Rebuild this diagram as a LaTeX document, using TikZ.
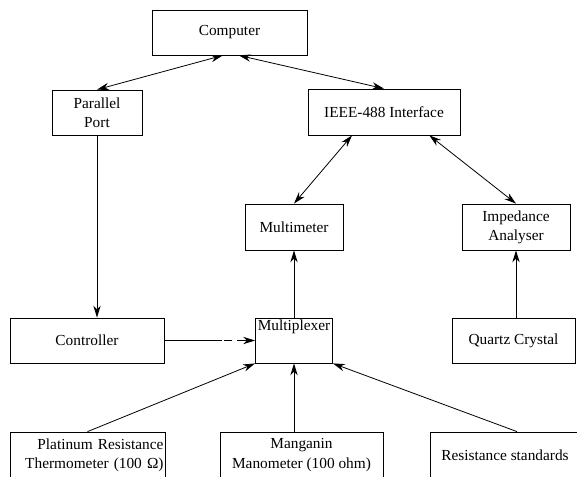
\documentclass[tikz,border=0pt]{standalone}
\usepackage{fontspec}
\setmainfont{Liberation Serif}
\usepackage{tikz}
\usetikzlibrary{arrows.meta}

\tikzset{
	blk/.style 2 args={draw, line width=0.6pt, minimum width=#1*0.75pt, minimum height=#2*0.75pt, inner sep=1pt, align=center, font=\fontsize{11.5}{14.5}\selectfont},
	lnk/.style={line width=0.6pt, -{Stealth[length=9pt,width=5.5pt]}},
	dlnk/.style={line width=0.6pt, {Stealth[length=9pt,width=5.5pt]}-{Stealth[length=9pt,width=5.5pt]}}
}

\begin{document}
\begin{tikzpicture}[x=0.75pt,y=-0.75pt]
	\path[use as bounding box, clip] (0,0) rectangle (577,476);

	\node[blk={155}{45}] (comp) at (229.5,32.5) {Computer};
	\node[blk={90}{45}] (pp) at (97,112.5) {Parallel\\Port};
	\node[blk={152}{46}] (ieee) at (384,112) {IEEE-488 Interface};

	\node[blk={98}{46}] (mmeter) at (294,227) {Multimeter};
	\node[blk={108}{46}] (imp) at (516,227) {Impedance\\Analyser};

	\node[blk={154}{45}] (ctrl) at (87,340.5) {Controller};
	\node[blk={77}{45}, label={[name=muxtxt, anchor=north, inner sep=1.5pt, font=\fontsize{11.5}{14.5}\selectfont]north:Multiplexer}] (mux) at (294,340.5) {};
	\node[blk={123}{45}] (quartz) at (513.5,340.5) {Quartz Crystal};

	\node[blk={155}{46}, align=right, text width=114pt] (plat) at (87.5,455) {Platinum Resistance\\Thermometer (100 Ω)};
	\node[blk={163}{46}] (man) at (301.5,455) {Manganin\\Manometer (100 ohm)};
	\node[blk={150}{46}] (res) at (505,455) {Resistance standards};

	\draw[dlnk] ([xshift=-5pt]comp.south) -- (pp.north);
	\draw[dlnk] ([xshift=7pt]comp.south) -- (ieee.north);
	\draw[dlnk] ([xshift=-24pt]ieee.south) -- (mmeter.north);
	\draw[dlnk] ([xshift=34pt]ieee.south) -- (imp.north);
	\draw[lnk] (pp.south) -- (ctrl.north -| pp.south);
	\draw[lnk, dash pattern=on 43pt off 1.5pt on 6pt off 4pt on 20pt] (ctrl.east) -- (mux.west);
	\draw[lnk] (mux.north) -- (mmeter.south);
	\draw[lnk] (quartz.north -| imp.south) -- (imp.south);
	\draw[lnk] (plat.north) -- (mux.south west);
	\draw[lnk] (man.north -| mux.south) -- (mux.south);
	\draw[lnk] ([xshift=9pt]res.north) -- (mux.south east);

\end{tikzpicture}
\end{document}
